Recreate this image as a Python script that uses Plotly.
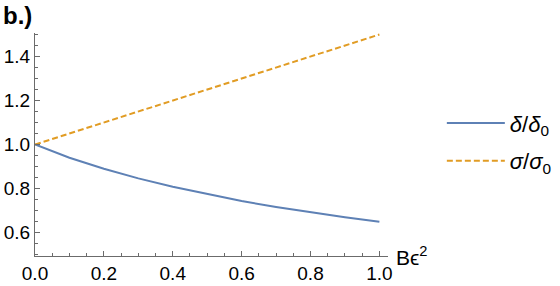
import plotly.graph_objects as go

# values
b_eps2 = [0.0, 0.1, 0.2, 0.3, 0.4, 0.5, 0.6, 0.7, 0.8, 0.9, 1.0]
delta_ratio = [1.0, 0.940, 0.890, 0.846, 0.808, 0.774, 0.743, 0.716, 0.691, 0.669, 0.649]
sigma_ratio = [1.0, 1.05, 1.10, 1.15, 1.20, 1.25, 1.30, 1.35, 1.40, 1.45, 1.50]
x_ticks = [0.0, 0.2, 0.4, 0.6, 0.8, 1.0]
y_ticks = [0.6, 0.8, 1.0, 1.2, 1.4]

BLUE = "#5E81B5"
ORANGE = "#E19C24"
AXIS = "#6b6b6b"
FONT = "Liberation Sans, Arial, sans-serif"

fig = go.Figure()
fig.add_trace(go.Scatter(
    x=b_eps2, y=delta_ratio, mode="lines", line=dict(color=BLUE, width=2),
    name="<i>δ</i>/<i>δ</i><sub>0</sub>", legendgroup="a",
))
fig.add_trace(go.Scatter(
    x=b_eps2, y=sigma_ratio, mode="lines", line=dict(color=ORANGE, width=2, dash="6px,3px"),
    name="<i>σ</i>/<i>σ</i><sub>0</sub>", legendgroup="b",
))

axis_common = dict(
    showgrid=False, zeroline=False, showline=True, linecolor=AXIS, linewidth=1,
    ticks="inside", ticklen=5, tickcolor=AXIS, tickwidth=1,
    tickfont=dict(family=FONT, size=19, color="black"),
    minor=dict(ticks="inside", ticklen=3, dtick=0.05, tickcolor=AXIS, tickwidth=1),
    automargin=False,
)
fig.update_xaxes(range=[0, 1.025], tickvals=x_ticks, ticktext=[f"{v:.1f}" for v in x_ticks], **axis_common)
fig.update_yaxes(range=[0.493, 1.507], tickvals=y_ticks, ticktext=[f"{v:.1f}" for v in y_ticks], **axis_common)

fig.add_annotation(
    text="Bϵ<sup>2</sup>", xref="x", yref="y", x=1.025, y=0.493,
    xanchor="left", yanchor="middle", xshift=6, showarrow=False,
    font=dict(family=FONT, size=21, color="black"),
)
fig.add_annotation(
    text="<b>b.)</b>", xref="paper", yref="paper", x=-0.097, y=1.15,
    xanchor="left", yanchor="top", showarrow=False,
    font=dict(family=FONT, size=24, color="black"),
)

fig.update_layout(
    width=560, height=286,
    margin=dict(l=35, r=172, t=33, b=30),
    paper_bgcolor="white", plot_bgcolor="white",
    showlegend=True,
    legend=dict(
        xref="container", x=0.789, y=0.51, xanchor="left", yanchor="middle",
        font=dict(family=FONT, size=22, color="black"),
        itemwidth=58, tracegroupgap=6, bgcolor="rgba(0,0,0,0)",
    ),
)

fig.write_html("out.html", config={"displayModeBar": False},
               post_script="document.body.style.margin='0';")
